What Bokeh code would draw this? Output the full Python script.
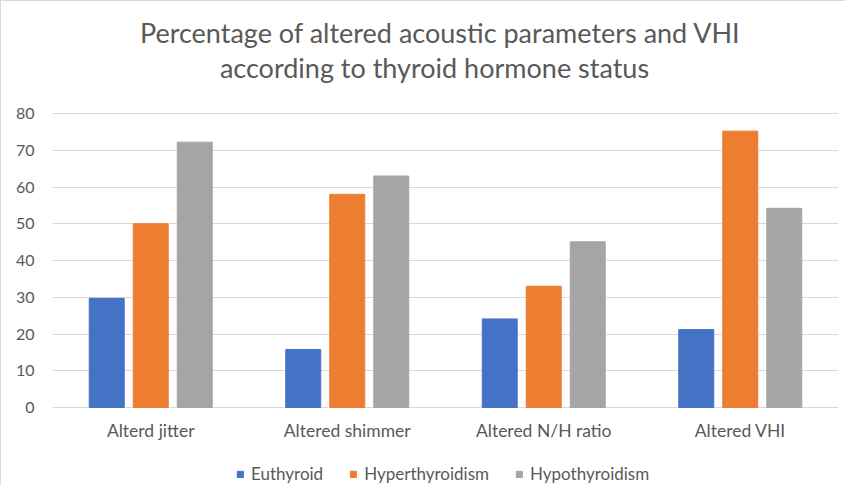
from bokeh.plotting import figure
from bokeh.models import (ColumnDataSource, FactorRange, Legend, LegendItem, Label, LabelSet,
                          FixedTicker, Range1d)
from bokeh.core.properties import value
from bokeh.transform import dodge
from bokeh.embed import file_html
from bokeh.resources import INLINE

categories = ["Alterd jitter", "Altered shimmer", "Altered N/H ratio", "Altered VHI"]
series_names = ["Euthyroid", "Hyperthyroidism", "Hypothyroidism"]
euthyroid = [29.7, 15.8, 24.1, 21.2]
hyperthyroidism = [50.0, 58.0, 33.0, 75.2]
hypothyroidism = [72.2, 63.0, 45.1, 54.2]
y_ticks = [0, 10, 20, 30, 40, 50, 60, 70, 80]
title_lines = ["Percentage of altered acoustic parameters and VHI",
               "according to thyroid hormone status"]
colors = ["#4472C4", "#ED7D31", "#A5A5A5"]

FONT = "Lato"
TXT = "#595959"

W, H = 845, 485
LEFT, RIGHT = 51, 8
ZERO_PX = 79      # distance of value 0 from bottom of canvas
TOP_PX = 112      # distance of value 80 from top of canvas
upp = 80 / (H - ZERO_PX - TOP_PX)

src = ColumnDataSource(dict(cat=categories, e=euthyroid, hr=hyperthyroidism, ho=hypothyroidism))

p = figure(width=W, height=H, x_range=FactorRange(*categories),
           y_range=Range1d(-ZERO_PX * upp, 80 + TOP_PX * upp),
           output_backend="svg", toolbar_location=None, x_axis_location=None,
           min_border_left=LEFT, min_border_right=RIGHT, min_border_top=0, min_border_bottom=0)
p.styles = {"border-left": "1px solid #d9d9d9", "border-top": "1px solid #d9d9d9"}
p.outline_line_color = None
p.x_range.range_padding = 0

renderers = []
for key, off, col in zip(["e", "hr", "ho"], [-0.224, 0.0, 0.224], colors):
    r = p.vbar(x=dodge("cat", off, range=p.x_range), top=key, bottom=0, width=0.178, source=src,
               fill_color=col, line_color=col)
    renderers.append(r)

p.yaxis.ticker = FixedTicker(ticks=y_ticks)
p.yaxis.axis_line_color = None
p.yaxis.major_tick_line_color = None
p.yaxis.minor_tick_line_color = None
p.yaxis.major_label_standoff = 12
p.yaxis.major_label_text_font = FONT
p.yaxis.major_label_text_font_size = "16px"
p.yaxis.major_label_text_color = TXT

p.xgrid.grid_line_color = None
p.ygrid.ticker = FixedTicker(ticks=y_ticks)
p.ygrid.grid_line_color = "#d9d9d9"
p.ygrid.grid_line_width = 1

# category labels under the bars
cats = LabelSet(x="cat", y=56, y_units="screen", text="cat", source=src,
                text_align="center", text_baseline="middle", text_font=value(FONT),
                text_font_size=value("17.5px"), text_color=value(TXT))
p.add_layout(cats)

# two-line title
for txt, ys, xs in zip(title_lines, [454, 419], [388, 382]):
    p.add_layout(Label(x=xs, y=ys, x_units="screen", y_units="screen", text=txt,
                       text_align="center", text_baseline="middle", text_font=FONT,
                       text_font_size="27px", text_color=TXT))

legend = Legend(items=[LegendItem(label=n, renderers=[r]) for n, r in zip(series_names, renderers)],
                orientation="horizontal", location=(184, 2), label_text_font=FONT,
                label_text_font_size="17px", label_text_color=TXT, border_line_color=None,
                background_fill_alpha=0, glyph_width=8, glyph_height=8, spacing=26,
                label_standoff=7, padding=0, margin=0, label_height=18)
p.add_layout(legend)

open("out.html", "w").write(file_html(p, INLINE))
